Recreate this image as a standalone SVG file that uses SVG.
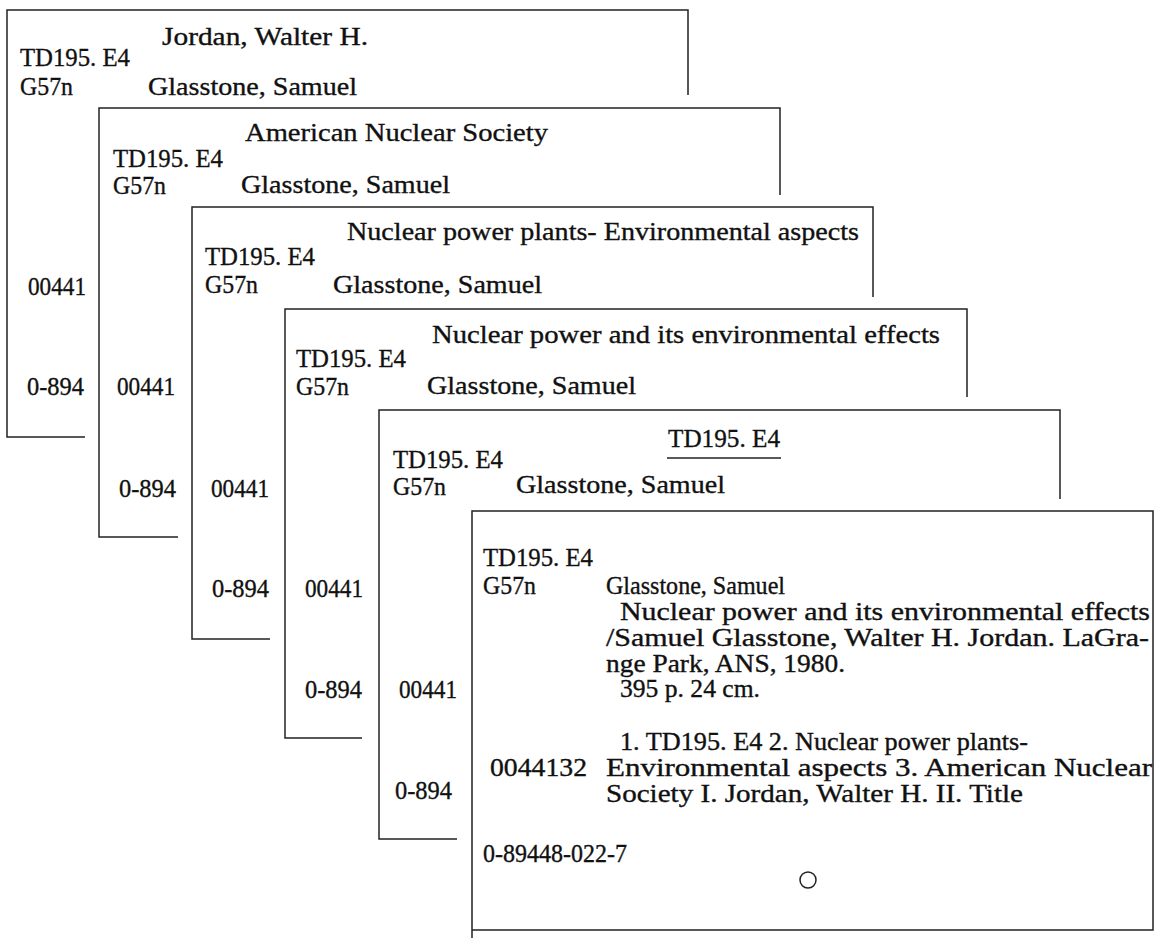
<svg xmlns="http://www.w3.org/2000/svg" width="1159" height="938" viewBox="0 0 1159 938" font-family="'Liberation Serif','Times New Roman',serif">
<style>
.bg{fill:#fff}
.card{fill:#fff;stroke:none}
.edge{fill:none;stroke:#222;stroke-width:1.5}
text{font-family:"Liberation Serif","Times New Roman",serif;font-size:26px;fill:#111;stroke:#111;stroke-width:0.35}
.s{font-size:25px}
</style>
<rect class="bg" x="0" y="0" width="1159" height="938"/>

<g id="card1">
<rect class="card" x="7" y="10" width="681" height="427"/>
<path class="edge" d="M85,437 H7 V10 H688 V95"/>
<text x="162" y="45" textLength="206" lengthAdjust="spacingAndGlyphs">Jordan, Walter H.</text>
<text x="20" y="66" textLength="110" lengthAdjust="spacingAndGlyphs">TD195. E4</text>
<text x="20" y="95" textLength="53" lengthAdjust="spacingAndGlyphs">G57n</text>
<text x="148" y="95" textLength="209" lengthAdjust="spacingAndGlyphs">Glasstone, Samuel</text>
<text x="28" y="295" textLength="58" lengthAdjust="spacingAndGlyphs">00441</text>
<text x="27" y="395" textLength="57" lengthAdjust="spacingAndGlyphs">0-894</text>
</g>

<g id="card2">
<rect class="card" x="99" y="108" width="681" height="429"/>
<path class="edge" d="M178,537 H99 V108 H780 V195"/>
<text x="245" y="141" textLength="303" lengthAdjust="spacingAndGlyphs">American Nuclear Society</text>
<text x="113" y="167" textLength="110" lengthAdjust="spacingAndGlyphs">TD195. E4</text>
<text x="113" y="194" textLength="53" lengthAdjust="spacingAndGlyphs">G57n</text>
<text x="241" y="193" textLength="209" lengthAdjust="spacingAndGlyphs">Glasstone, Samuel</text>
<text x="117" y="395" textLength="58" lengthAdjust="spacingAndGlyphs">00441</text>
<text x="119" y="497" textLength="57" lengthAdjust="spacingAndGlyphs">0-894</text>
</g>

<g id="card3">
<rect class="card" x="192" y="207" width="681" height="432"/>
<path class="edge" d="M270,639 H192 V207 H873 V297"/>
<text x="347" y="240" textLength="512" lengthAdjust="spacingAndGlyphs">Nuclear power plants- Environmental aspects</text>
<text x="205" y="265" textLength="110" lengthAdjust="spacingAndGlyphs">TD195. E4</text>
<text x="205" y="293" textLength="53" lengthAdjust="spacingAndGlyphs">G57n</text>
<text x="333" y="293" textLength="209" lengthAdjust="spacingAndGlyphs">Glasstone, Samuel</text>
<text x="211" y="497" textLength="58" lengthAdjust="spacingAndGlyphs">00441</text>
<text x="212" y="597" textLength="57" lengthAdjust="spacingAndGlyphs">0-894</text>
</g>

<g id="card4">
<rect class="card" x="285" y="309" width="682" height="429"/>
<path class="edge" d="M362,738 H285 V309 H967 V397"/>
<text x="432" y="343" textLength="508" lengthAdjust="spacingAndGlyphs">Nuclear power and its environmental effects</text>
<text x="296" y="367" textLength="110" lengthAdjust="spacingAndGlyphs">TD195. E4</text>
<text x="296" y="395" textLength="53" lengthAdjust="spacingAndGlyphs">G57n</text>
<text x="427" y="394" textLength="209" lengthAdjust="spacingAndGlyphs">Glasstone, Samuel</text>
<text x="305" y="597" textLength="58" lengthAdjust="spacingAndGlyphs">00441</text>
<text x="305" y="698" textLength="57" lengthAdjust="spacingAndGlyphs">0-894</text>
</g>

<g id="card5">
<rect class="card" x="379" y="410" width="681" height="429"/>
<path class="edge" d="M457,839 H379 V410 H1060 V499"/>
<text x="668" y="447" textLength="112" lengthAdjust="spacingAndGlyphs">TD195. E4</text>
<line class="edge" x1="667" y1="458" x2="781" y2="458"/>
<text x="393" y="468" textLength="110" lengthAdjust="spacingAndGlyphs">TD195. E4</text>
<text x="393" y="495" textLength="53" lengthAdjust="spacingAndGlyphs">G57n</text>
<text x="516" y="493" textLength="209" lengthAdjust="spacingAndGlyphs">Glasstone, Samuel</text>
<text x="399" y="698" textLength="58" lengthAdjust="spacingAndGlyphs">00441</text>
<text x="395" y="799" textLength="57" lengthAdjust="spacingAndGlyphs">0-894</text>
</g>

<g id="card6">
<rect class="card" x="472" y="511" width="681" height="419"/>
<path class="edge" d="M472,938 V511 H1153 V930 H472"/>
<text x="483" y="566" textLength="110" lengthAdjust="spacingAndGlyphs">TD195. E4</text>
<text x="483" y="594" textLength="53" lengthAdjust="spacingAndGlyphs">G57n</text>
<text class="s" x="606" y="594" textLength="179" lengthAdjust="spacingAndGlyphs">Glasstone, Samuel</text>
<text class="s" x="620" y="620" textLength="530" lengthAdjust="spacingAndGlyphs">Nuclear power and its environmental effects</text>
<text class="s" x="606" y="646" textLength="543" lengthAdjust="spacingAndGlyphs">/Samuel Glasstone, Walter H. Jordan. LaGra-</text>
<text class="s" x="606" y="672" textLength="239" lengthAdjust="spacingAndGlyphs">nge Park, ANS, 1980.</text>
<text class="s" x="620" y="697" textLength="140" lengthAdjust="spacingAndGlyphs">395 p. 24 cm.</text>
<text class="s" x="620" y="750" textLength="408" lengthAdjust="spacingAndGlyphs">1. TD195. E4 2. Nuclear power plants-</text>
<text class="s" x="490" y="776" textLength="97" lengthAdjust="spacingAndGlyphs">0044132</text>
<text class="s" x="606" y="776" textLength="546" lengthAdjust="spacingAndGlyphs">Environmental aspects  3. American Nuclear</text>
<text class="s" x="606" y="802" textLength="417" lengthAdjust="spacingAndGlyphs">Society I. Jordan, Walter H. II. Title</text>
<text class="s" x="483" y="862" textLength="144" lengthAdjust="spacingAndGlyphs">0-89448-022-7</text>
<circle class="edge" cx="808" cy="880" r="8"/>
</g>
</svg>
